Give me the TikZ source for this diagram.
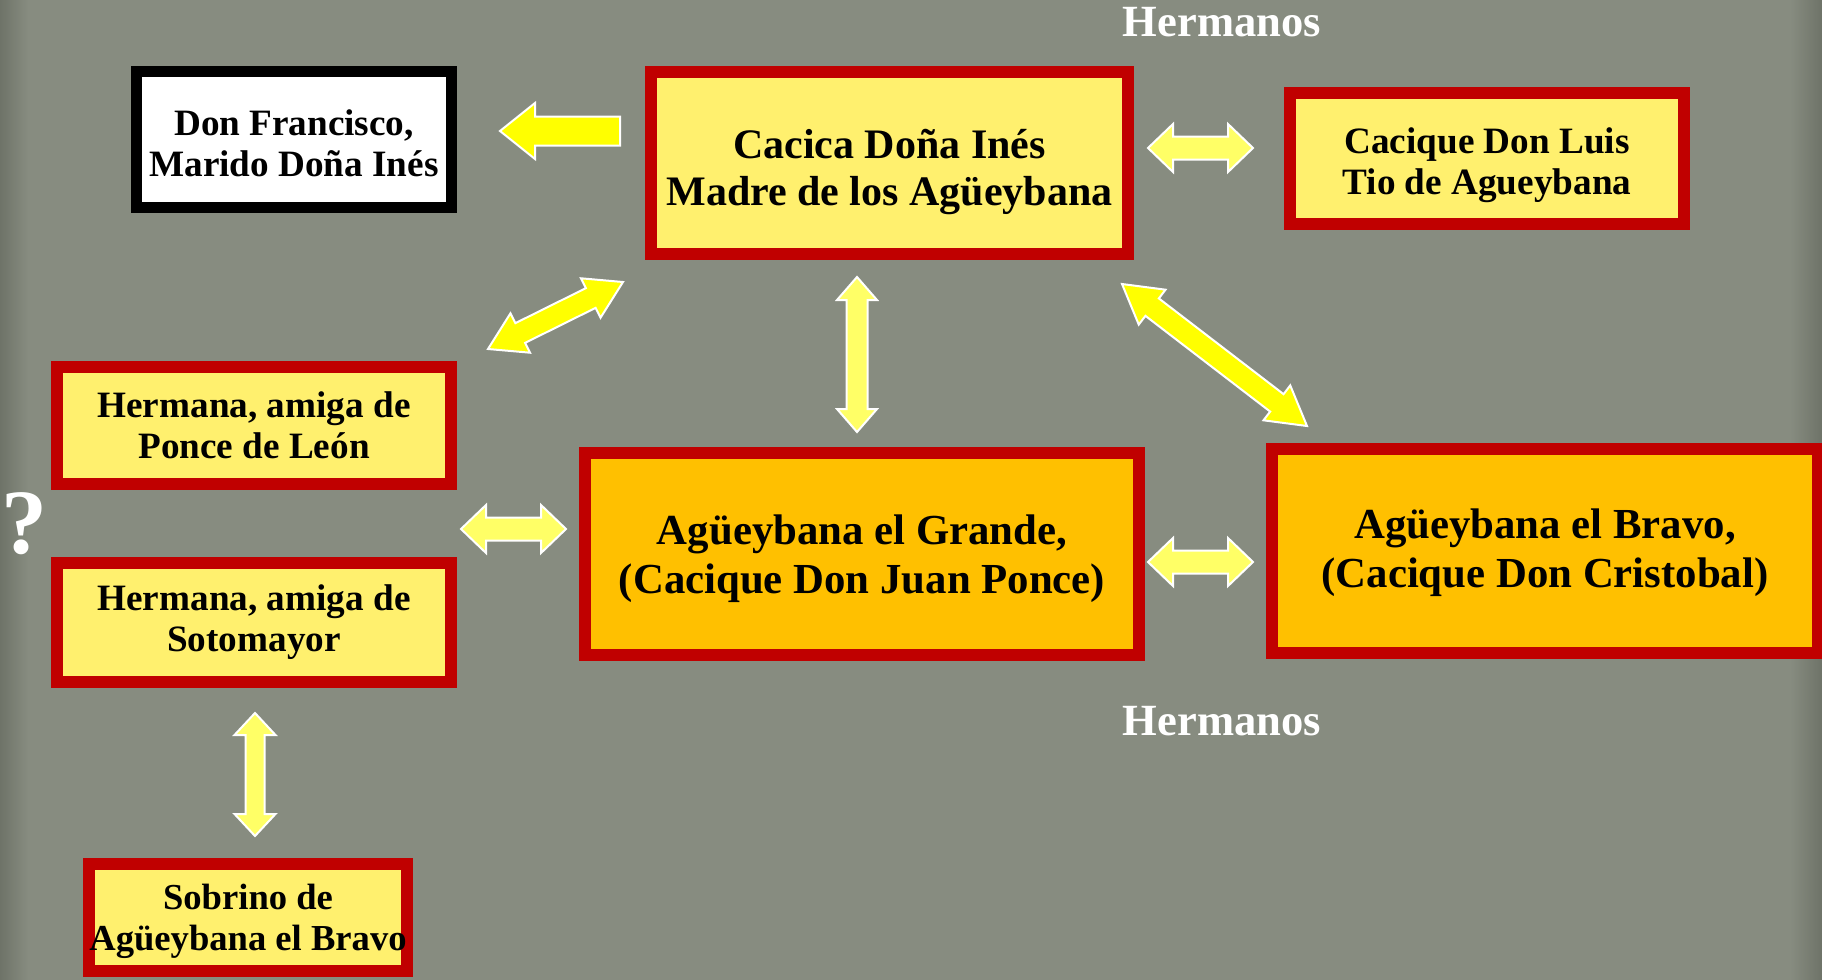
\documentclass[tikz,border=0pt]{standalone}
\usepackage{fontspec}
\setmainfont{Liberation Serif}
\usetikzlibrary{calc}
\definecolor{bg}{HTML}{878C80}
\definecolor{bgdark}{HTML}{6E7368}
\definecolor{boxred}{HTML}{C00000}
\definecolor{paleyel}{HTML}{FFF06E}
\definecolor{orng}{HTML}{FFC000}
\definecolor{arrY}{HTML}{FFFF00}
\definecolor{arrP}{HTML}{FFFF66}
% double block arrow: #1 end A, #2 end B, #3 half shaft, #4 half head, #5 head length, #6 fill
\newcommand{\dblarr}[6]{%
  \path ($(#1)!#5!(#2)$) coordinate (hA) ($(#2)!#5!(#1)$) coordinate (hB);
  \filldraw[fill=#6,draw=white,line width=1pt,line join=miter]
    (#1)
    -- ($(hA)!#4!90:(#2)$) -- ($(hA)!#3!90:(#2)$)
    -- ($(hB)!#3!-90:(#1)$) -- ($(hB)!#4!-90:(#1)$)
    -- (#2)
    -- ($(hB)!#4!90:(#1)$) -- ($(hB)!#3!90:(#1)$)
    -- ($(hA)!#3!-90:(#2)$) -- ($(hA)!#4!-90:(#2)$)
    -- cycle;}
% single block arrow: #1 tip, #2 tail
\newcommand{\sglarr}[6]{%
  \path ($(#1)!#5!(#2)$) coordinate (hA);
  \filldraw[fill=#6,draw=white,line width=1pt,line join=miter]
    (#1)
    -- ($(hA)!#4!90:(#2)$) -- ($(hA)!#3!90:(#2)$)
    -- ($(#2)!#3!-90:(#1)$) -- ($(#2)!#3!90:(#1)$)
    -- ($(hA)!#3!-90:(#2)$) -- ($(hA)!#4!-90:(#2)$)
    -- cycle;}
\tikzset{
  redbox/.style={draw=boxred, line width=6pt, fill=paleyel, inner sep=0pt},
  bigbox/.style={redbox, fill=orng},
  blackbox/.style={draw=black, line width=5.5pt, fill=white, inner sep=0pt},
  smalltxt/.style={align=center, inner sep=0pt, font=\bfseries\fontsize{18.6}{20.5}\selectfont},
  toptxt/.style={align=center, inner sep=0pt, font=\bfseries\fontsize{21}{23.5}\selectfont},
  bigtxt/.style={align=center, inner sep=0pt, font=\bfseries\fontsize{21.4}{24.5}\selectfont},
  hlabel/.style={text=white, inner sep=0pt, font=\bfseries\fontsize{22.3}{24}\selectfont},
  qlabel/.style={text=white, inner sep=0pt, font=\bfseries\fontsize{46}{50}\selectfont}
}
\begin{document}
\begin{tikzpicture}[x=0.5pt,y=-0.5pt]
\useasboundingbox (0,0) rectangle (1822,980);
\clip (0,0) rectangle (1822,980);
\fill[bg] (0,0) rectangle (1822,980);
\fill[left color=bgdark, right color=bg] (0,0) rectangle (28,980);
\fill[left color=bg, right color=bgdark] (1790,0) rectangle (1822,980);

% boxes
\node[blackbox, minimum width=157.5pt, minimum height=68pt,
  label={[smalltxt, yshift=-2pt]center:Don Francisco,\\Marido Doña Inés}] (fran) at (294,139.5) {};
\node[redbox, minimum width=238.5pt, minimum height=91pt,
  label={[toptxt, yshift=-4.5pt]center:Cacica Doña Inés\\Madre de los Agüeybana}] (ines) at (889.5,163) {};
\node[redbox, minimum width=197pt, minimum height=65.5pt,
  label={[smalltxt, yshift=-3.5pt]center:Cacique Don Luis\\Tio de Agueybana}] (luis) at (1487,158.5) {};
\node[redbox, minimum width=197pt, minimum height=58.5pt,
  label={[smalltxt]center:Hermana, amiga de\\Ponce de León}] (ponce) at (254,425.5) {};
\node[redbox, minimum width=197pt, minimum height=59.5pt,
  label={[smalltxt]center:Hermana, amiga de\\Sotomayor}] (soto) at (254,622.5) {};
\node[bigbox, minimum width=277pt, minimum height=101pt,
  label={[bigtxt, yshift=-2.5pt]center:Agüeybana el Grande,\\(Cacique Don Juan Ponce)}] (grande) at (862,554) {};
\node[bigbox, minimum width=273pt, minimum height=102pt,
  label={[bigtxt, yshift=-1pt]center:Agüeybana el Bravo,\\(Cacique Don Cristobal)}] (bravo) at (1545,551) {};
\node[redbox, minimum width=159pt, minimum height=53.5pt,
  label={[smalltxt, yshift=-2pt, font=\bfseries\fontsize{18.3}{20.5}\selectfont]center:Sobrino de\\Agüeybana el Bravo}]
  (sobrino) at (248,917.5) {};

% labels
\node[hlabel] (herm1) at (1222,22) {Hermanos};
\node[hlabel] (herm2) at (1222,721) {Hermanos};
\node[qlabel] (q) at (25,524) {?};

% arrow end points
\coordinate (fA) at (500,131);   \coordinate (fB) at (620,131);
\coordinate (lA) at (1148,148);  \coordinate (lB) at (1253,148);
\coordinate (pA) at (488,349);   \coordinate (pB) at (623,282);
\coordinate (vA) at (857,277);   \coordinate (vB) at (857,432);
\coordinate (bA) at (1122,284);  \coordinate (bB) at (1307,426);
\coordinate (hA1) at (461,529);  \coordinate (hB1) at (566,529);
\coordinate (gA) at (1148,562);  \coordinate (gB) at (1253,562);
\coordinate (sA) at (255,713);   \coordinate (sB) at (255,836);

\sglarr{fA}{fB}{7.25pt}{14pt}{17.5pt}{arrY}
\dblarr{lA}{lB}{5.75pt}{12pt}{12.5pt}{arrP}
\dblarr{pA}{pB}{5.5pt}{11pt}{18pt}{arrY}
\dblarr{vA}{vB}{5.25pt}{10pt}{11.5pt}{arrP}
\dblarr{bA}{bB}{5.5pt}{11pt}{19pt}{arrY}
\dblarr{hA1}{hB1}{5.75pt}{12pt}{12.5pt}{arrP}
\dblarr{gA}{gB}{5.75pt}{12pt}{12.5pt}{arrP}
\dblarr{sA}{sB}{4.75pt}{10.25pt}{11pt}{arrP}
\end{tikzpicture}
\end{document}
